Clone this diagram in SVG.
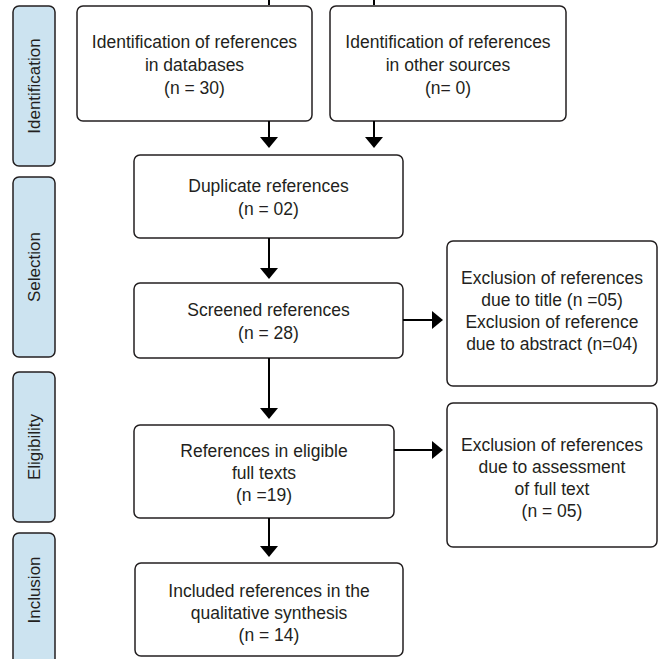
<svg xmlns="http://www.w3.org/2000/svg" width="661" height="659" viewBox="0 0 661 659">
<style>
.box{fill:#fff;stroke:#231f20;stroke-width:1.5}
.side{fill:#cce3f0;stroke:#231f20;stroke-width:1.5}
text{font-family:"Liberation Sans",Arial,sans-serif;font-size:17.5px;fill:#231f20;text-anchor:middle}
.st{font-size:17px}
.ln{stroke:#000;stroke-width:2;fill:none}
.ah{fill:#000}
</style>
<g id="side-identification"><rect class="side" x="13" y="6" width="42" height="160" rx="6"/><text class="st" transform="translate(40,86) rotate(-90)">Identification</text></g>
<g id="side-selection"><rect class="side" x="13" y="177" width="42" height="180" rx="6"/><text class="st" transform="translate(40,267) rotate(-90)">Selection</text></g>
<g id="side-eligibility"><rect class="side" x="13" y="372" width="42" height="150" rx="6"/><text class="st" transform="translate(40,447) rotate(-90)">Eligibility</text></g>
<g id="side-inclusion"><rect class="side" x="13" y="533" width="42" height="135" rx="6"/><text class="st" transform="translate(40,590) rotate(-90)">Inclusion</text></g>

<g id="n-databases"><rect class="box" x="77" y="6" width="235" height="115" rx="6"/><text x="194.5" y="48">Identification of references</text><text x="194.5" y="71">in databases</text><text x="194.5" y="94">(n = 30)</text></g>
<g id="n-other"><rect class="box" x="330" y="6" width="236" height="115" rx="6"/><text x="448" y="48">Identification of references</text><text x="448" y="71">in other sources</text><text x="448" y="94">(n= 0)</text></g>
<g id="n-duplicate"><rect class="box" x="134" y="155" width="269" height="83" rx="6"/><text x="268.5" y="192">Duplicate references</text><text x="268.5" y="215">(n = 02)</text></g>
<g id="n-screened"><rect class="box" x="134" y="283" width="269" height="75" rx="6"/><text x="268.5" y="316">Screened references</text><text x="268.5" y="339">(n = 28)</text></g>
<g id="n-excl1"><rect class="box" x="447" y="241" width="210" height="145" rx="6"/><text x="552" y="284">Exclusion of references</text><text x="552" y="306">due to title (n =05)</text><text x="552" y="328">Exclusion of reference</text><text x="552" y="350">due to abstract (n=04)</text></g>
<g id="n-eligible"><rect class="box" x="134" y="425" width="260" height="93" rx="6"/><text x="264" y="457">References in eligible</text><text x="264" y="479">full texts</text><text x="264" y="501">(n =19)</text></g>
<g id="n-excl2"><rect class="box" x="447" y="403" width="210" height="144" rx="6"/><text x="552" y="451">Exclusion of references</text><text x="552" y="473">due to assessment</text><text x="552" y="495">of full text</text><text x="552" y="517">(n = 05)</text></g>
<g id="n-included"><rect class="box" x="135" y="563" width="268" height="93" rx="6"/><text x="269" y="597">Included references in the</text><text x="269" y="619">qualitative synthesis</text><text x="269" y="641">(n = 14)</text></g>

<g id="connectors">
<line class="ln" x1="269" y1="0" x2="269" y2="5"/>
<line class="ln" x1="374" y1="0" x2="374" y2="5"/>
<line class="ln" x1="269" y1="121" x2="269" y2="138"/><polygon class="ah" points="260,137 278,137 269,148"/>
<line class="ln" x1="374" y1="121" x2="374" y2="138"/><polygon class="ah" points="365,137 383,137 374,148"/>
<line class="ln" x1="269" y1="238" x2="269" y2="269"/><polygon class="ah" points="260,268 278,268 269,279"/>
<line class="ln" x1="403" y1="320" x2="433" y2="320"/><polygon class="ah" points="432,311 432,329 443,320"/>
<line class="ln" x1="269" y1="358" x2="269" y2="409"/><polygon class="ah" points="260,408 278,408 269,419"/>
<line class="ln" x1="394" y1="450" x2="433" y2="450"/><polygon class="ah" points="432,441 432,459 443,450"/>
<line class="ln" x1="269" y1="518" x2="269" y2="547"/><polygon class="ah" points="260,546 278,546 269,557"/>
</g>
</svg>
